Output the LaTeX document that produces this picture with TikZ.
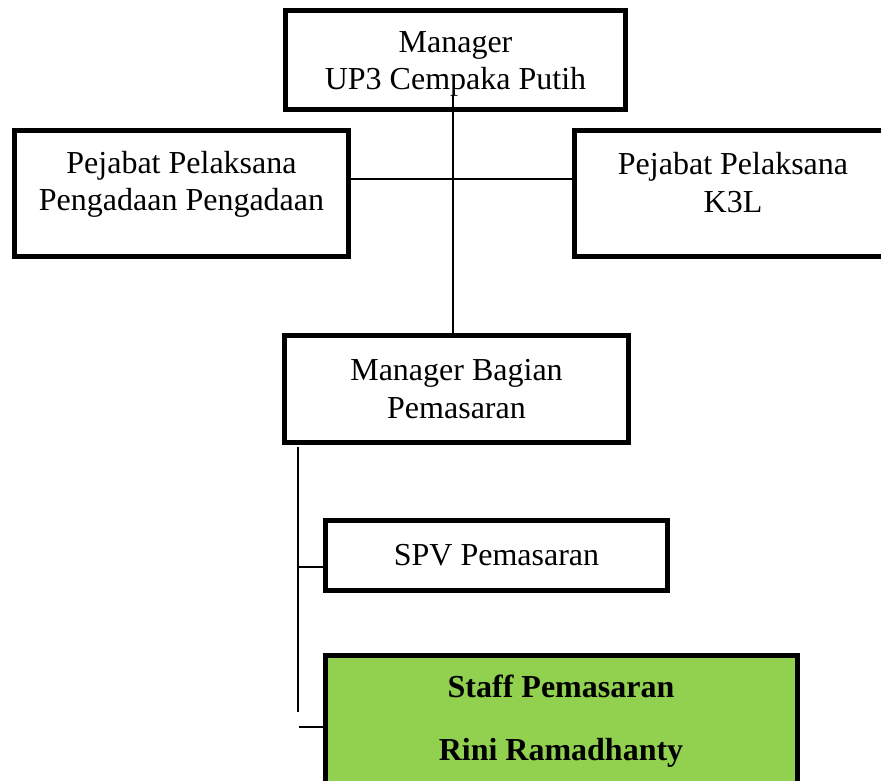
\documentclass[tikz,border=0pt]{standalone}
\usepackage{fontspec}
\setmainfont{Liberation Serif}
\usepackage{tikz}
\usetikzlibrary{positioning,calc}
\definecolor{staffgreen}{HTML}{92D050}

\begin{document}
\begin{tikzpicture}[x=0.375pt, y=-0.375pt,
  box/.style={draw, line width=1.875pt, inner sep=0pt, anchor=center},
  txt/.style={font=\fontsize{12}{14}\selectfont, align=center, inner sep=0pt},
  bold/.style={font=\fontsize{12}{14}\selectfont\bfseries, inner sep=0pt, anchor=base},
  link/.style={line width=0.6pt},
]
\path[use as bounding box, clip] (0,0) rectangle (881,781);

% Top: manager
\node[box, minimum width=127.5pt, minimum height=37.1pt] (mgr) at (455.5,60) {};
\node[txt] (mgrtxt) at (455.5,64) {Manager\\UP3 Cempaka Putih};

% Side boxes
\node[box, minimum width=125.25pt, minimum height=47.25pt] (pengadaan) at (181.5,193.5) {};
\node[txt] (pengadaantxt) at (181.5,184.5) {Pejabat Pelaksana\\Pengadaan Pengadaan};
\node[box, minimum width=118.9pt, minimum height=47.25pt] (k3l) at (733,193.5) {};
\node[txt] (k3ltxt) at (733,182.5) {Pejabat Pelaksana\\K3L};

% Middle: manager bagian
\node[box, txt, minimum width=129pt, minimum height=40.1pt] (mb) at (456.5,389) {Manager Bagian\\Pemasaran};

% Lower boxes
\node[box, txt, minimum width=128.25pt, minimum height=26.25pt] (spv) at (496.5,555.5) {SPV Pemasaran};
\node[box, fill=staffgreen, minimum width=177pt, minimum height=76.7pt] (staff) at (561.5,757.75) {};
\node[bold] (stafftxt) at (561,697) {Staff Pemasaran};
\node[bold] (rini) at (561,760) {Rini Ramadhanty};

% Connectors
\coordinate (drop) at (453,95);
\draw[link] (drop) -- (drop |- mb.north);
\coordinate (split) at (453,179);
\draw[link] (pengadaan.east |- split) -- (k3l.west |- split);
\coordinate (trunk) at (298,447);
\coordinate (trunkend) at (298,712);
\draw[link] (trunk) -- (trunkend);
\coordinate (spvtap) at (298,567);
\draw[link] (spvtap) -- (spvtap -| spv.west);
\coordinate (stafftap) at (299,727);
\draw[link] (stafftap) -- (stafftap -| staff.west);

\end{tikzpicture}
\end{document}
